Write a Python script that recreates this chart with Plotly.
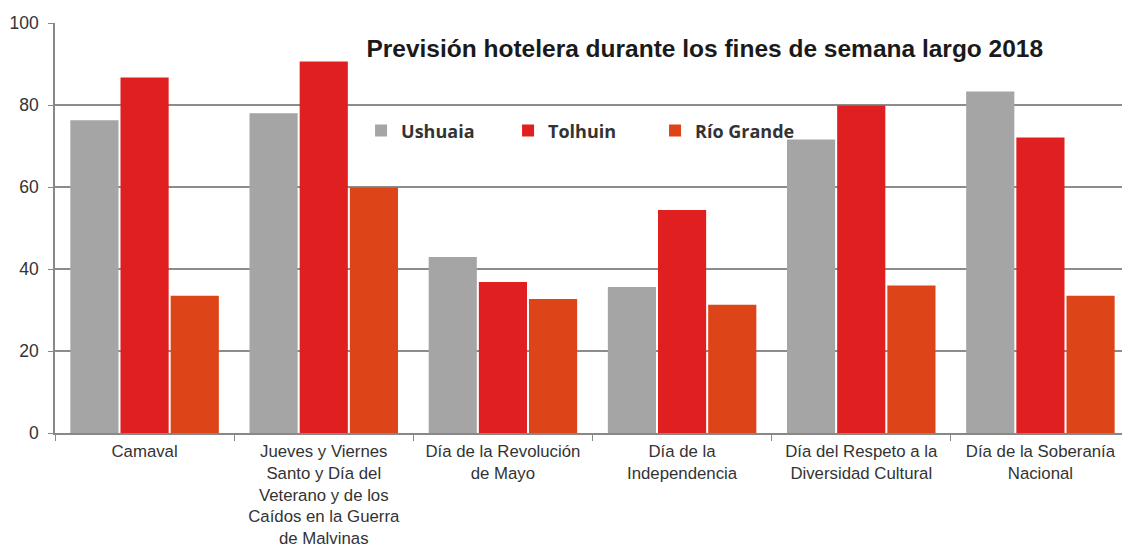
import plotly.graph_objects as go

categories = [
    "Camaval",
    "Jueves y Viernes<br>Santo y Día del<br>Veterano y de los<br>Caídos en la Guerra<br>de Malvinas",
    "Día de la Revolución<br>de Mayo",
    "Día de la<br>Independencia",
    "Día del Respeto a la<br>Diversidad Cultural",
    "Día de la Soberanía<br>Nacional",
]
ushuaia = [76.3, 78.0, 42.9, 35.6, 71.6, 83.3]
tolhuin = [86.7, 90.6, 36.8, 54.4, 79.9, 72.1]
rio_grande = [33.5, 59.9, 32.7, 31.3, 36.0, 33.5]
series_names = ["Ushuaia", "Tolhuin", "Río Grande"]
colors = ["#a5a5a5", "#e01f20", "#dd4417"]
y_ticks = [0, 20, 40, 60, 80, 100]

fig = go.Figure()
for name, vals, col in zip(series_names, [ushuaia, tolhuin, rio_grande], colors):
    fig.add_trace(go.Bar(x=categories, y=vals, name=name, marker_color=col,
                         marker_line_width=0))

fig.update_layout(
    width=1122, height=541,
    margin=dict(l=47, r=0, t=15, b=116),
    paper_bgcolor="white", plot_bgcolor="white",
    barmode="group", bargap=0.16, bargroupgap=0.04,
    showlegend=True,
    legend=dict(orientation="h", x=0.2847, y=0.737, yanchor="middle", xanchor="left",
                bgcolor="rgba(0,0,0,0)", entrywidth=102,
                font=dict(family="Open Sans", size=18, color="#333333", weight="bold")),
    title=dict(text="<b>Previsión hotelera durante los fines de semana largo 2018</b>",
               x=0.621, xanchor="center", y=0.926, yanchor="middle",
               font=dict(family="Liberation Sans", size=24.5, color="#1a1a1a")),
    font=dict(family="Liberation Sans", color="#333333"),
)
fig.update_xaxes(
    tickson="boundaries", ticks="outside", ticklen=6, tickcolor="#888888",
    showline=True, linecolor="#888888", linewidth=1.5,
    tickfont=dict(family="Liberation Sans", size=16.8, color="#333333"),
    ticklabelstandoff=2,
    range=[-0.5, 5.5], automargin=False, showgrid=False,
)
fig.update_yaxes(
    range=[0, 100], tickvals=y_ticks, ticks="outside", ticklen=5, tickcolor="#888888",
    showline=True, linecolor="#888888", linewidth=1.5,
    showgrid=True, gridcolor="#8c8c8c", gridwidth=1.5,
    tickfont=dict(family="Liberation Sans", size=17.5, color="#333333"),
    ticklabelstandoff=6,
    automargin=False, zeroline=False,
)

fig.write_html("out.html")
